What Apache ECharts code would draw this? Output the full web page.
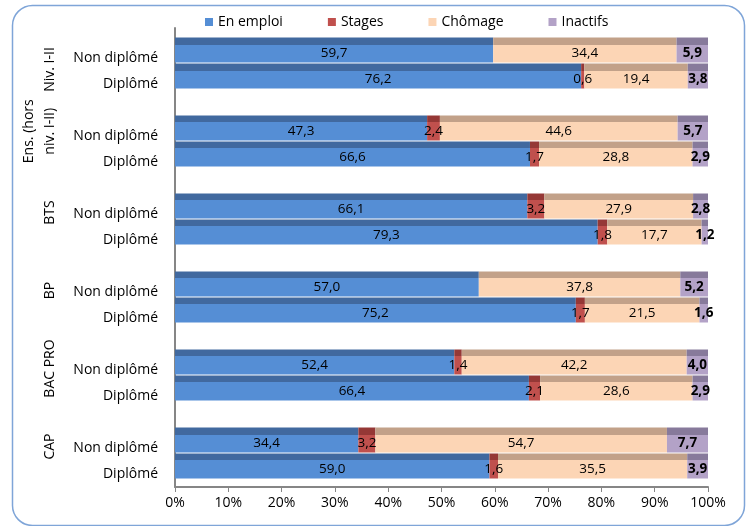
<!DOCTYPE html>
<html>
<head>
<meta charset="utf-8">
<script src="https://cdn.jsdelivr.net/npm/echarts@6/dist/echarts.min.js"></script>
<style>
  html, body { margin: 0; padding: 0; background: #fff; }
  #chart { width: 748px; height: 526px; }
</style>
</head>
<body>
<div id="chart"></div>
<script>
// Diploma levels (outer groups) and status within each group
const groups = ['Niv. I-II', 'Ens. (hors\nniv. I-II)', 'BTS', 'BP', 'BAC PRO', 'CAP'];
const statuses = ['Non diplômé', 'Diplômé'];

// Shares (%) in group order: Non diplômé, Diplômé for each group
const enEmploi = [59.7, 76.2, 47.3, 66.6, 66.1, 79.3, 57.0, 75.2, 52.4, 66.4, 34.4, 59.0];
const stages   = [0,    0.6,  2.4,  1.7,  3.2,  1.8,  0,    1.7,  1.4,  2.1,  3.2,  1.6];
const chomage  = [34.4, 19.4, 44.6, 28.8, 27.9, 17.7, 37.8, 21.5, 42.2, 28.6, 54.7, 35.5];
const inactifs = [5.9,  3.8,  5.7,  2.9,  2.8,  1.2,  5.2,  1.6,  4.0,  2.9,  7.7,  3.9];

const seriesNames = ['En emploi', 'Stages', 'Chômage', 'Inactifs'];
const xTickStep = 10;

const FONT = 'Open Sans';

// Spread the 12 rows into slots with an empty row between groups
const slotLabels = [];
const slotIndex = [];
groups.forEach((g, gi) => {
  statuses.forEach((s, si) => {
    slotLabels.push(s);
    slotIndex.push(gi * 2 + si);
  });
  if (gi < groups.length - 1) { slotLabels.push(''); slotIndex.push(-1); }
});
const toSlots = arr => slotIndex.map(i => (i < 0 ? '-' : arr[i]));

// where each rotated group title sits along the slot axis (in slot units)
const groupLabelAt = [1.25, 3.625, 6.75, 9.75, 12.75, 15.75];

// bar face: darker top strip, lighter body
function face(top, body) {
  return new echarts.graphic.LinearGradient(0, 0, 0, 1, [
    { offset: 0, color: top },
    { offset: 0.28, color: top },
    { offset: 0.28, color: body },
    { offset: 1, color: body }
  ]);
}
const palette = [
  { body: '#558ED5', top: '#41699F' },
  { body: '#C0504D', top: '#953836' },
  { body: '#FCD5B5', top: '#C2A189' },
  { body: '#B3A2C7', top: '#877A9B' }
];
const values = [enEmploi, stages, chomage, inactifs];

const fmt = v => v.toFixed(1).replace('.', ',');

const series = seriesNames.map((name, k) => ({
  name,
  type: 'bar',
  stack: 'total',
  xAxisIndex: 1,
  yAxisIndex: 1,
  barWidth: 25,
  data: toSlots(values[k]),
  itemStyle: { color: face(palette[k].top, palette[k].body) },
  label: {
    show: true,
    position: 'inside',
    offset: [0, 3],
    color: '#000',
    fontFamily: FONT,
    fontSize: 13.5,
    fontWeight: k === 3 ? 'bold' : 'normal',
    formatter: p => (typeof p.value === 'number' && p.value > 0 ? fmt(p.value) : '')
  },
  emphasis: { disabled: true }
}));

const chart = echarts.init(document.getElementById('chart'), null, { renderer: 'canvas' });
chart.setOption({
  animation: false,
  textStyle: { fontFamily: FONT },
  graphic: [{
    type: 'rect',
    left: 10, top: 3,
    shape: { width: 732, height: 520, r: 20 },
    style: { fill: 'none', stroke: '#7FA5D8', lineWidth: 1.5 },
    z: -1
  }],
  legend: {
    top: 10,
    left: 200,
    itemWidth: 8,
    itemHeight: 8,
    itemGap: 45,
    icon: 'rect',
    textStyle: { fontFamily: FONT, fontSize: 14, color: '#000' },
    data: seriesNames.map((n, k) => ({ name: n, itemStyle: { color: palette[k].body } }))
  },
  grid: [
    { left: 175, right: 40, top: 28, height: 459 },
    { left: 175, right: 40, top: 37, height: 442 }
  ],
  xAxis: [
    {
      gridIndex: 0, type: 'value', min: 0, max: 100, interval: xTickStep,
      axisLine: { show: true, lineStyle: { color: '#868686', width: 2 } },
      axisTick: { show: true, length: 5, lineStyle: { color: '#868686', width: 1 } },
      splitLine: { show: false },
      axisLabel: { formatter: '{value}%', margin: 9, color: '#000', fontFamily: FONT, fontSize: 14 }
    },
    {
      gridIndex: 1, type: 'value', min: 0, max: 100, show: false
    }
  ],
  yAxis: [
    {
      gridIndex: 0, type: 'value', min: 0, max: 1,
      axisLine: { show: true, lineStyle: { color: '#868686', width: 2 } },
      axisTick: { show: false }, axisLabel: { show: false }, splitLine: { show: false }
    },
    {
      gridIndex: 1, type: 'category', inverse: true, data: slotLabels,
      axisLine: { show: false }, axisTick: { show: false },
      axisLabel: {
        interval: 0, margin: 17, color: '#000', fontFamily: FONT, fontSize: 14,
        verticalAlign: 'top', lineHeight: 16
      }
    },
    {
      gridIndex: 1, type: 'value', inverse: true, min: 0, max: slotLabels.length, interval: 0.125,
      position: 'left', offset: 106,
      axisLine: { show: false }, axisTick: { show: false }, splitLine: { show: false },
      axisLabel: {
        rotate: 90, margin: 8, color: '#000', fontFamily: FONT, fontSize: 14, lineHeight: 21,
        formatter: v => {
          const g = groupLabelAt.findIndex(p => Math.abs(v - p) < 0.01);
          return g >= 0 ? groups[g] : '';
        }
      }
    }
  ],
  series
});
</script>
</body>
</html>
